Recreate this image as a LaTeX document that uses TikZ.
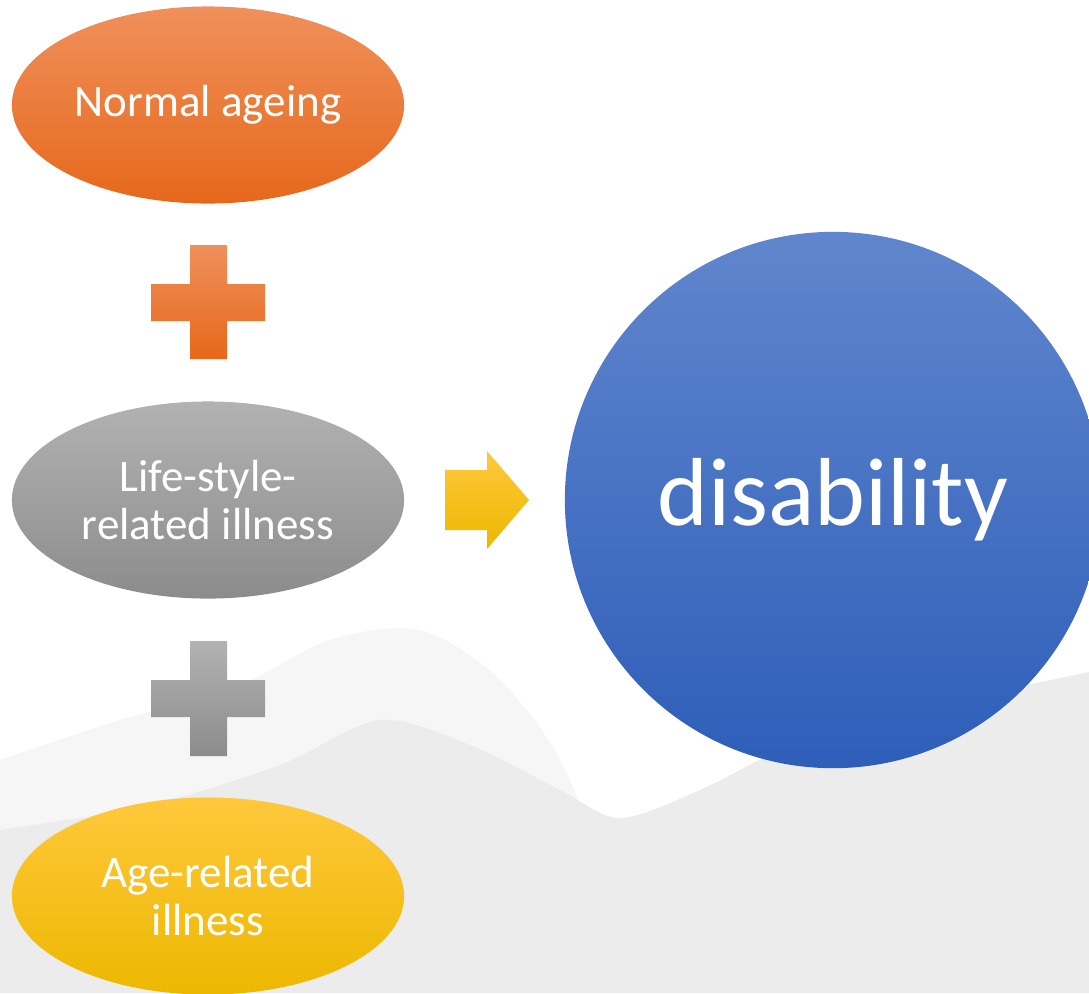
\documentclass[tikz,border=0pt]{standalone}
\usepackage{fontspec}
\setmainfont{Carlito}
\usetikzlibrary{shapes.geometric}

\definecolor{orangetop}{RGB}{240,144,92}
\definecolor{orangebot}{RGB}{230,104,26}
\definecolor{greytop}{RGB}{178,178,178}
\definecolor{greybot}{RGB}{140,140,140}
\definecolor{yellowtop}{RGB}{255,200,60}
\definecolor{yellowmid}{RGB}{255,198,0}
\definecolor{yellowbot}{RGB}{236,184,0}
\definecolor{bluetop}{RGB}{96,134,205}
\definecolor{bluebot}{RGB}{46,94,185}
\definecolor{snow}{RGB}{236,236,236}

\tikzset{
  blob/.style={ellipse, minimum width=3.92cm, minimum height=1.97cm,
    inner sep=0pt, text=white, align=center,
    font=\fontsize{12.8}{13.9}\selectfont},
  bigcircle/.style={circle, minimum size=5.36cm, inner sep=0pt,
    text=white, font=\fontsize{27.5}{30}\selectfont},
}

\begin{document}
\begin{tikzpicture}[x=0.01cm,y=-0.01cm]
  \useasboundingbox (0,0) rectangle (1089,993);
  \clip (0,0) rectangle (1089,993);
  % background
  \fill[white] (0,0) rectangle (1089,993);
  \fill[snow!50] plot[smooth] coordinates {(0,760) (120,720) (230,690)
    (330,640) (420,630) (500,680) (570,780) (640,993)} -- (0,993) -- cycle;
  \fill[snow] (0,993) -- plot[smooth] coordinates {(0,830) (150,805) (280,765)
    (380,720) (470,745) (560,790) (620,818) (700,790) (800,740) (900,705)
    (1000,690) (1089,672)} -- (1089,993) -- cycle;

  % ovals
  \node[blob, top color=orangetop, bottom color=orangebot] (ageing) at (208,105)
    {Normal ageing};
  \node[blob, top color=greytop, bottom color=greybot] (lifestyle) at (208,500)
    {Life-style-\\related illness};
  \node[blob, top color=yellowtop, middle color=yellowmid, bottom color=yellowbot]
    (agerelated) at (208,896) {Age-related\\illness};

  % plus signs
  \shade[top color=orangetop, bottom color=orangebot]
    (190,245) -- (227,245) -- (227,284) -- (265,284) -- (265,321) -- (227,321)
    -- (227,359) -- (190,359) -- (190,321) -- (151,321) -- (151,284) -- (190,284) -- cycle;
  \shade[top color=greytop, bottom color=greybot]
    (190,641) -- (227,641) -- (227,680) -- (265,680) -- (265,717) -- (227,717)
    -- (227,756) -- (190,756) -- (190,717) -- (151,717) -- (151,680) -- (190,680) -- cycle;

  % arrow
  \shade[top color=yellowtop, middle color=yellowmid, bottom color=yellowbot]
    (445,470) -- (487,470) -- (487,451) -- (529,500) -- (487,549) -- (487,530)
    -- (445,530) -- cycle;

  \node[bigcircle, top color=bluetop, bottom color=bluebot] (disability) at (833,500)
    {disability};
\end{tikzpicture}
\end{document}
